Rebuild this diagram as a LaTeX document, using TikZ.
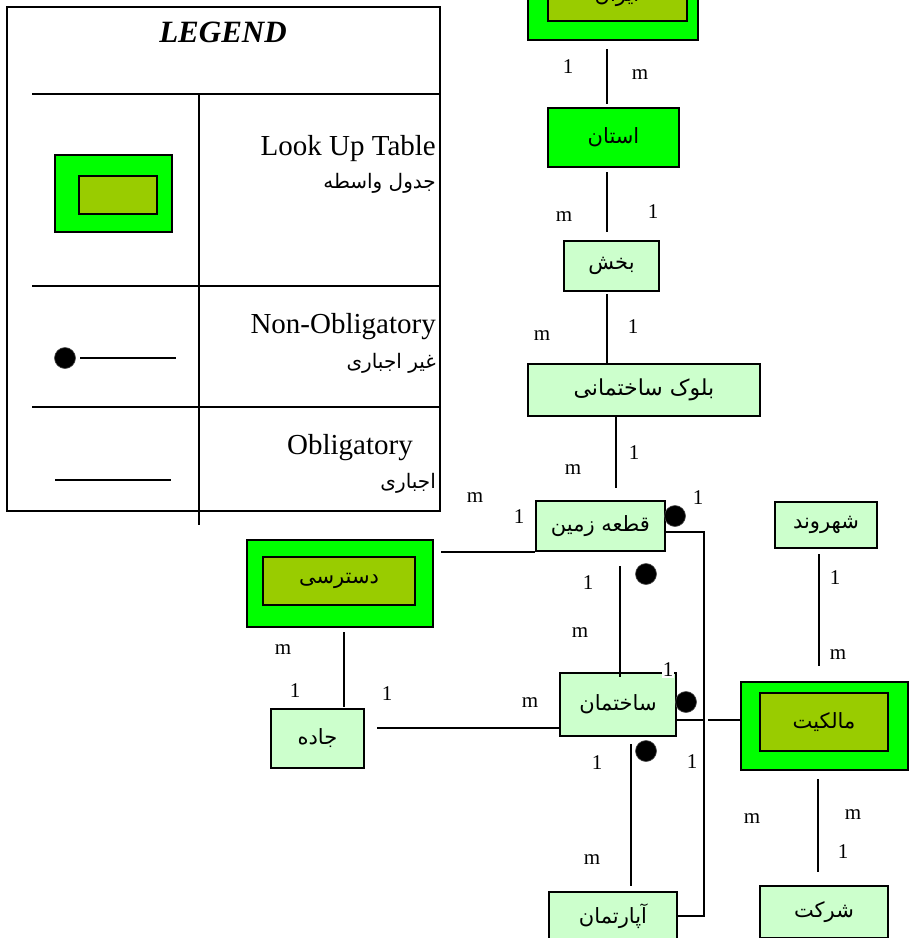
\documentclass[tikz,border=0pt]{standalone}
\usepackage{fontspec}
\setmainfont{Liberation Serif}
\newfontfamily\fa[Script=Arabic]{DejaVu Sans}
\TeXXeTstate=1
\definecolor{gBright}{HTML}{00FF00}
\definecolor{gOlive}{HTML}{99CC00}
\definecolor{gPale}{HTML}{CCFFCC}
\newcommand\fatext[2][21]{{\fa\fontsize{#1}{#1}\selectfont\beginR #2\endR}}
\tikzset{
  ent/.style={draw=black, line width=2.3pt, fill=gPale, inner sep=0pt},
  ostbox/.style={draw=black, line width=2.3pt, fill=gBright, inner sep=0pt},
  lookout/.style={draw=black, line width=2.3pt, fill=gBright, inner sep=0pt},
  lookin/.style={draw=black, line width=2.3pt, fill=gOlive, inner sep=0pt},
  card/.style={inner sep=0pt, font=\fontsize{21}{21}\selectfont},
  legtext/.style={inner sep=0pt, font=\fontsize{29}{29}\selectfont},
  link/.style={line width=2.3pt},
  optdot/.style={fill=black, draw=black!70, line width=0.6pt}
}
\begin{document}
\begin{tikzpicture}[x=1pt, y=-1pt]
\clip (0,0) rectangle (909,938);
\fill[white] (0,0) rectangle (909,938);

% ---------- legend ----------
\draw[link] (7,7) rectangle (440,511);
\node[inner sep=0pt, font=\fontsize{31}{31}\selectfont\bfseries\itshape] (legtitle) at (223,32) {LEGEND};
\draw[link] (32,94) -- (440,94);
\draw[link] (32,286) -- (440,286);
\draw[link] (32,407) -- (440,407);
\draw[link] (199,94) -- (199,525);
\node[lookout, minimum width=117pt, minimum height=77pt] (legout) at (113.5,193.5) {};
\node[lookin, minimum width=78pt, minimum height=38pt] (legin) at (118,195) {};
\node[legtext, anchor=base east] (leg1) at (436,155) {Look Up Table};
\node[inner sep=0pt, anchor=east] (leg1f) at (436,183) {\fatext[20]{جدول واسطه}};
\node[legtext, anchor=base east] (leg2) at (436,333) {Non-Obligatory};
\node[inner sep=0pt, anchor=east] (leg2f) at (436,363) {\fatext[20]{غیر اجباری}};
\node[legtext, anchor=base east] (leg3) at (413,454) {Obligatory};
\node[inner sep=0pt, anchor=east] (leg3f) at (436,483) {\fatext[20]{اجباری}};
\node[optdot, circle, minimum size=21pt, inner sep=0pt] (legdot) at (65,358) {};
\coordinate (legdotend) at (176,358);
\draw[link] (80,358) -- (legdotend);
\coordinate (legA) at (55,480);
\coordinate (legB) at (171,480);
\draw[link] (legA) -- (legB);

% ---------- entities ----------
\node[lookout, minimum width=170pt, minimum height=87pt] (iran) at (613,-3.5) {};
\node[lookin, minimum width=139pt, minimum height=48pt] (iranin) at (617.5,-3) {};
\node[inner sep=0pt, anchor=base] (irantxt) at (617,1) {\fatext{ایران}};

\node[ostbox, minimum width=131pt, minimum height=59pt] (ostan) at (613.5,137.5) {\fatext{استان}};
\node[ent, minimum width=95pt, minimum height=50pt] (bakhsh) at (611.5,266) {\fatext{بخش}};
\node[ent, minimum width=232pt, minimum height=52pt] (boluk) at (644,390) {\fatext[22]{بلوک ساختمانی}};
\node[ent, minimum width=129pt, minimum height=50pt] (ghete) at (600.5,526) {\fatext{قطعه زمین}};
\node[ent, minimum width=102pt, minimum height=46pt] (shahr) at (826,525) {\fatext{شهروند}};

\node[lookout, minimum width=186pt, minimum height=87pt] (dast) at (340,583.5) {};
\node[lookin, minimum width=152pt, minimum height=48pt] (dastin) at (339,581) {\fatext{دسترسی}};

\node[ent, minimum width=93pt, minimum height=59pt] (jadde) at (317.5,738.5) {\fatext{جاده}};
\node[ent, minimum width=116pt, minimum height=63pt] (sakh) at (618,704.5) {\fatext{ساختمان}};

\node[lookout, minimum width=167pt, minimum height=88pt] (malek) at (824.5,726) {};
\node[lookin, minimum width=128pt, minimum height=58pt] (malekin) at (824,722) {\fatext{مالکیت}};

\node[ent, minimum width=128pt, minimum height=48pt] (apart) at (613,916) {\fatext{آپارتمان}};
\node[ent, minimum width=128pt, minimum height=52pt] (sherkat) at (824,912) {\fatext{شرکت}};

% ---------- connector columns ----------
\coordinate (xA) at (607,0);
\coordinate (xB) at (616,0);
\coordinate (xC) at (620,0);
\coordinate (xD) at (631,0);
\coordinate (xE) at (344,0);
\coordinate (xF) at (819,0);
\coordinate (xG) at (818,0);

\draw[link, shorten <=8pt, shorten >=3pt] (iran.south -| xA) -- (ostan.north -| xA);
\draw[link, shorten <=4pt, shorten >=8pt] (ostan.south -| xA) -- (bakhsh.north -| xA);
\draw[link, shorten <=2pt] (bakhsh.south -| xA) -- (boluk.north -| xA);
\draw[link, shorten >=12pt] (boluk.south -| xB) -- (ghete.north -| xB);
\draw[link, shorten <=14pt, shorten >=-5pt] (ghete.south -| xC) -- (sakh.north -| xC);
\draw[link, shorten <=7pt, shorten >=5pt] (sakh.south -| xD) -- (apart.north -| xD);
\draw[link, shorten <=4pt, shorten >=1pt] (dast.south -| xE) -- (jadde.north -| xE);
\draw[link, shorten <=5pt, shorten >=15pt] (shahr.south -| xF) -- (malek.north -| xF);
\draw[link, shorten <=8pt, shorten >=13pt] (malek.south -| xG) -- (sherkat.north -| xG);

% horizontal links
\draw[link, shorten <=7pt] (dast.east |- ghete.south west) -- (ghete.south west);
\coordinate (jroad) at (377,728);
\draw[link] (jroad) -- (sakh.west |- jroad);
\coordinate (bend) at (704,916);
\draw[link] ([yshift=-6pt]ghete.east) -| (bend) -- (apart.east |- bend);
\coordinate (cross) at (704,720);
\draw[link] (sakh.east |- cross) -- (cross);
\draw[link, shorten <=4pt] (cross) -- (malek.west |- cross);

% non-obligatory ends
\node[optdot, circle, minimum size=21pt, inner sep=0pt] (d1) at (675,516) {};
\node[optdot, circle, minimum size=21pt, inner sep=0pt] (d2) at (646,574) {};
\node[optdot, circle, minimum size=21pt, inner sep=0pt] (d3) at (686,702) {};
\node[optdot, circle, minimum size=21pt, inner sep=0pt] (d4) at (646,751) {};

% ---------- cardinalities ----------
\node[card] (c01) at (568,67) {1};
\node[card] (c02) at (640,75) {m};
\node[card] (c03) at (564,217) {m};
\node[card] (c04) at (653,212) {1};
\node[card] (c05) at (542,336) {m};
\node[card] (c06) at (633,327) {1};
\node[card] (c07) at (634,453) {1};
\node[card] (c08) at (573,470) {m};
\node[card] (c09) at (475,498) {m};
\node[card] (c10) at (519,517) {1};
\node[card] (c11) at (698,498) {1};
\node[card] (c12) at (588,583) {1};
\node[card] (c13) at (580,633) {m};
\node[card, fill=white, inner sep=1pt] (c14) at (668,670) {1};
\node[card] (c15) at (597,763) {1};
\node[card] (c16) at (592,860) {m};
\node[card] (c17) at (692,762) {1};
\node[card] (c18) at (752,819) {m};
\node[card] (c19) at (853,815) {m};
\node[card] (c20) at (843,852) {1};
\node[card] (c21) at (835,578) {1};
\node[card] (c22) at (838,655) {m};
\node[card] (c23) at (283,650) {m};
\node[card] (c24) at (295,691) {1};
\node[card] (c25) at (387,694) {1};
\node[card] (c26) at (530,703) {m};
\end{tikzpicture}
\end{document}
